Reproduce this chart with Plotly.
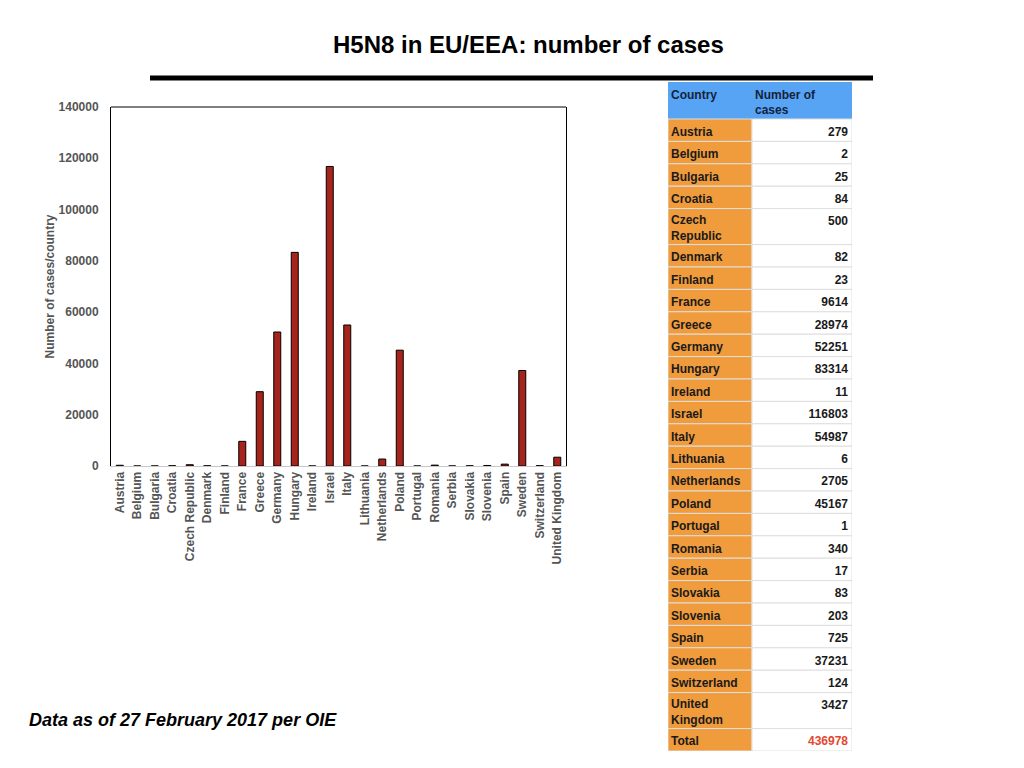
import plotly.graph_objects as go

# H5N8 cases per country (EU/EEA), OIE data 27 Feb 2017
countries = ['Austria', 'Belgium', 'Bulgaria', 'Croatia', 'Czech Republic', 'Denmark',
             'Finland', 'France', 'Greece', 'Germany', 'Hungary', 'Ireland', 'Israel',
             'Italy', 'Lithuania', 'Netherlands', 'Poland', 'Portugal', 'Romania',
             'Serbia', 'Slovakia', 'Slovenia', 'Spain', 'Sweden', 'Switzerland',
             'United Kingdom']
cases = [279, 2, 25, 84, 500, 82, 23, 9614, 28974, 52251, 83314, 11, 116803,
         54987, 6, 2705, 45167, 1, 340, 17, 83, 203, 725, 37231, 124, 3427]
y_ticks = [0, 20000, 40000, 60000, 80000, 100000, 120000, 140000]
header_labels = ['Country', 'Number of<br>cases']

W, H = 1024, 768
OFF = 8  # page body margin
GREY = '#555555'
FONT = 'Liberation Sans'


def px_x(v):
    return (v - OFF) / W


def px_y(v):
    return 1 - (v - OFF) / H


# ---- table geometry (in pixel units of its own axes) ----
ROW_H = 22.4
LINE_H = 13.6
HEAD_H = 37
COL1, COL2 = 84, 100
TXT_DY = 2.5  # nudge text down a little inside its cell

tbl_names = [c.replace(' ', '<br>') for c in countries] + ['Total']
tbl_vals = [str(v) for v in cases] + [str(sum(cases))]
heights, tops = [], []
pos = HEAD_H
for n in tbl_names:
    h = ROW_H + LINE_H * n.count('<br>')
    tops.append(pos)
    heights.append(h)
    pos += h
table_h = pos
centers = [t + h / 2 for t, h in zip(tops, heights)]
first_line = [t + ROW_H / 2 for t in tops]

fig = go.Figure()

fig.add_trace(go.Bar(
    x=countries, y=cases,
    marker=dict(color='#a6241c', line=dict(color='black', width=1)),
    xaxis='x', yaxis='y', hoverinfo='skip',
))

# table cells as horizontal bars
cell_line = dict(color='#dedede', width=1)
fig.add_trace(go.Bar(
    orientation='h', y=[HEAD_H / 2, HEAD_H / 2], x=[COL1, COL2], base=[0, COL1],
    width=[HEAD_H, HEAD_H], marker=dict(color='#58a4f4', line=dict(color='#58a4f4', width=1)),
    xaxis='x2', yaxis='y2', hoverinfo='skip',
))
fig.add_trace(go.Bar(
    orientation='h', y=centers, x=[COL1] * len(centers), base=0, width=heights,
    marker=dict(color='#f09b3c', line=cell_line),
    xaxis='x2', yaxis='y2', hoverinfo='skip',
))
fig.add_trace(go.Bar(
    orientation='h', y=centers, x=[COL2] * len(centers), base=COL1, width=heights,
    marker=dict(color='white', line=cell_line),
    xaxis='x2', yaxis='y2', hoverinfo='skip',
))

# table texts
txt_font = dict(family=FONT, size=12, color='#1a1a1a', weight='bold')
fig.add_trace(go.Scatter(
    mode='text', x=[3, COL1 + 3], y=[5 + TXT_DY, 5 + TXT_DY], text=header_labels,
    textposition='bottom right', textfont=dict(family=FONT, size=12, color='#13233a', weight='bold'),
    xaxis='x2', yaxis='y2', hoverinfo='skip',
))
fig.add_trace(go.Scatter(
    mode='text', x=[3] * len(tbl_names), y=[c + TXT_DY for c in centers], text=tbl_names,
    textposition='middle right', textfont=txt_font,
    xaxis='x2', yaxis='y2', hoverinfo='skip',
))
fig.add_trace(go.Scatter(
    mode='text', x=[COL1 + COL2 - 4] * len(tbl_vals), y=[f + TXT_DY for f in first_line],
    text=tbl_vals, textposition='middle left',
    textfont=dict(family=FONT, size=12, weight='bold',
                  color=['#1a1a1a'] * len(cases) + ['#e4462f']),
    xaxis='x2', yaxis='y2', hoverinfo='skip',
))

fig.update_layout(
    width=W, height=H,
    margin=dict(l=0, r=0, t=0, b=0),
    paper_bgcolor='white', plot_bgcolor='white',
    showlegend=False,
    barmode='overlay',
    bargap=0.6,
    font=dict(family=FONT),
    xaxis=dict(
        domain=[px_x(111), px_x(566)],
        automargin=False,
        tickangle=-90,
        tickfont=dict(size=12, color=GREY, weight='bold'),
        showline=True, linecolor='#c8c8c8', linewidth=1,
        showgrid=False, ticks='', fixedrange=True,
    ),
    yaxis=dict(
        domain=[px_y(466), px_y(107)],
        automargin=False,
        range=[0, 140000],
        tickvals=y_ticks, tickformat='d',
        tickfont=dict(size=12, color=GREY, weight='bold'),
        showline=True, mirror=True, linecolor='black', linewidth=1,
        showgrid=False, zeroline=False, ticks='',
        ticklabelstandoff=9,
        title=dict(text='Number of cases/country', standoff=1,
                   font=dict(size=12, color=GREY, weight='bold')),
    ),
    xaxis2=dict(
        domain=[px_x(668), px_x(852)], range=[0, COL1 + COL2], anchor='y2',
        visible=False, automargin=False, fixedrange=True,
    ),
    yaxis2=dict(
        domain=[px_y(751), px_y(82)], range=[table_h, 0], anchor='x2',
        visible=False, automargin=False, fixedrange=True,
    ),
    shapes=[
        # top border of plot box
        dict(type='line', xref='paper', yref='paper',
             x0=px_x(111), x1=px_x(566), y0=px_y(107), y1=px_y(107),
             line=dict(color='black', width=1)),
        # heavy rule under the title
        dict(type='line', xref='paper', yref='paper',
             x0=px_x(150), x1=px_x(873), y0=px_y(78), y1=px_y(78),
             line=dict(color='black', width=5)),
    ],
    annotations=[
        dict(text='<b>H5N8 in EU/EEA: number of cases</b>', xref='paper', yref='paper',
             x=px_x(528), y=px_y(44), xanchor='center', yanchor='middle',
             showarrow=False, font=dict(size=24, color='black', family=FONT)),
        dict(text='<b><i>Data as of 27 February 2017 per OIE</i></b>', xref='paper', yref='paper',
             x=px_x(27), y=px_y(720), xanchor='left', yanchor='middle',
             showarrow=False, font=dict(size=18, color='black', family=FONT)),
    ],
)

fig.write_html('out.html')
